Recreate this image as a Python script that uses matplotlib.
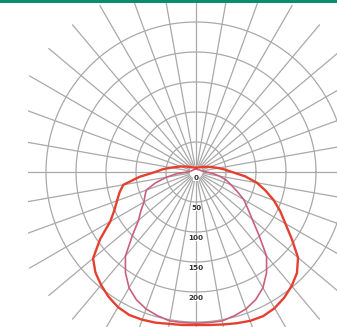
import numpy as np
import matplotlib
matplotlib.use("Agg")
import matplotlib.pyplot as plt
from matplotlib.patches import Rectangle

# ---- data (cd/klm), angle measured from nadir ----
angles_deg = [0, 5, 10, 15, 20, 25, 30, 35, 40, 45, 50, 55, 60, 65, 70, 75, 80, 85, 90,
              95, 100, 110, 120, 130, 140, 150, 160, 170, 180]
outer_c0 = [255, 256, 258, 261, 264, 265, 262, 256, 248, 238, 222, 195, 172, 155, 138, 120,
            103, 82, 60, 48, 38, 25, 17, 13, 10, 9, 8, 7, 7]
outer_c180 = [255, 256, 257, 260, 262, 263, 260, 254, 246, 237, 224, 195, 165, 150, 140, 132,
              123, 95, 68, 55, 42, 27, 18, 13, 10, 9, 8, 7, 7]
inner_c90 = [252, 252, 252, 248, 243, 235, 223, 205, 183, 148, 122, 105, 92, 75, 62, 52,
             40, 28, 18, 13, 10, 8, 7, 6, 5, 5, 5, 5, 5]
inner_c270 = [252, 252, 252, 248, 243, 235, 223, 205, 183, 150, 125, 112, 100, 94, 88, 70,
              50, 32, 15, 11, 9, 7, 6, 6, 5, 5, 5, 5, 5]
ring_values = [50, 100, 150, 200, 250]
ring_labels = ["0", "50", "100", "150", "200"]
label_values = [0, 50, 100, 150, 200]

W, H = 337, 327
fig = plt.figure(figsize=(W / 100, H / 100), dpi=100)
fig.patch.set_facecolor("white")

# axes in pixel geometry: left edge 28px, top 3px
ax = fig.add_axes([28 / W, 0, (W - 28) / W, (H - 3) / H])
scale = 0.6  # px per unit
cx, cy = 196, 172
ax.set_xlim(-(cx - 28) / scale, (W - cx) / scale)
ax.set_ylim(-(H - cy) / scale, (cy - 3) / scale)
ax.set_aspect("equal")
ax.axis("off")

grid_col = "#a9a9a9"
# radial lines every 10 degrees
for a in range(0, 360, 10):
    t = np.deg2rad(a)
    ax.plot([12 * np.cos(t), 320 * np.cos(t)], [12 * np.sin(t), 320 * np.sin(t)],
            color=grid_col, lw=0.9, zorder=1)
# rings
tt = np.linspace(0, 2 * np.pi, 400)
for rv in ring_values:
    ax.plot(rv * np.cos(tt), rv * np.sin(tt), color=grid_col, lw=0.9, zorder=1)


def polar_xy(angs, rs, side):
    a = np.deg2rad(np.asarray(angs, float))
    r = np.asarray(rs, float)
    return side * r * np.sin(a), -r * np.cos(a)


# inner curve (C90-270)
xr, yr = polar_xy(angles_deg, inner_c90, 1)
xl, yl = polar_xy(angles_deg, inner_c270, -1)
ax.plot(np.concatenate([xl[::-1], xr]), np.concatenate([yl[::-1], yr]),
        color="#c9607a", lw=1.2, zorder=3)
# outer curve (C0-180)
xr, yr = polar_xy(angles_deg, outer_c0, 1)
xl, yl = polar_xy(angles_deg, outer_c180, -1)
ax.plot(np.concatenate([xl[::-1], xr]), np.concatenate([yl[::-1], yr]),
        color="#e5402f", lw=1.7, zorder=4)

# labels
for v, lab in zip(label_values, ring_labels):
    ax.text(0, -(v + 10), lab, ha="center", va="center", fontsize=5.2,
            fontweight="bold", color="#333333", zorder=5,
            bbox=dict(facecolor="white", edgecolor="none", pad=0.3))

# green top bar
fig.patches.append(Rectangle((0, 1 - 3 / H), 1, 3 / H, transform=fig.transFigure,
                             facecolor="#0b8c6c", edgecolor="none", zorder=10))

fig.savefig("out.png", dpi=100, facecolor="white")
